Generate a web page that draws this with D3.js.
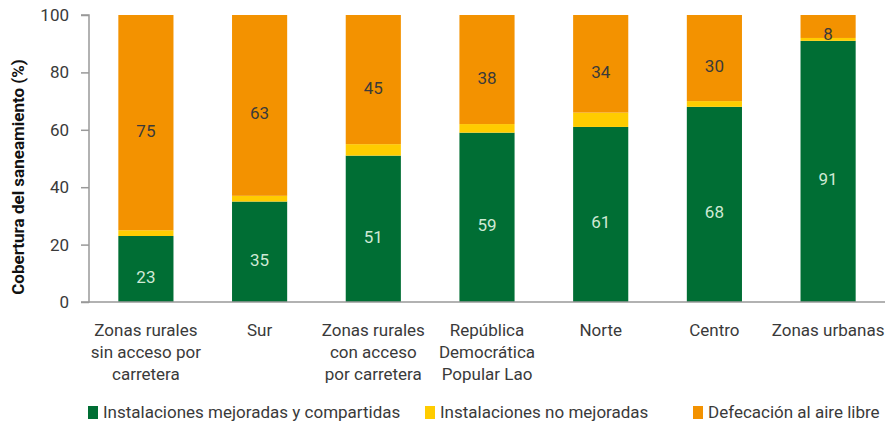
<!DOCTYPE html>
<html><head><meta charset="utf-8">
<script src="https://cdn.jsdelivr.net/npm/d3@7"></script>
<style>
body{margin:0;background:#fff;}
text{font-family:"Liberation Sans Narrow","Roboto",sans-serif;}
</style></head>
<body><svg id="c" width="887" height="424"></svg>
<script>
const categories = [
  ["Zonas rurales","sin acceso por","carretera"],
  ["Sur"],
  ["Zonas rurales","con acceso","por carretera"],
  ["República","Democrática","Popular Lao"],
  ["Norte"],
  ["Centro"],
  ["Zonas urbanas"]
];
const improved   = [23, 35, 51, 59, 61, 68, 91];
const unimproved = [2, 2, 4, 3, 5, 2, 1];
const openDef    = [75, 63, 45, 38, 34, 30, 8];
const yTicks = [0, 20, 40, 60, 80, 100];
const seriesNames = ["Instalaciones mejoradas y compartidas","Instalaciones no mejoradas","Defecación al aire libre"];
const colors = ["#006E34","#FFCC00","#F39200"];

const svg = d3.select("#c");
const x = d3.scaleBand().domain(d3.range(categories.length)).range([89, 885]).paddingInner(0.515).paddingOuter(0.258);
const y = d3.scaleLinear().domain([0, 100]).range([302, 15]);

const data = categories.map((c, i) => ({i, vals: [improved[i], unimproved[i], openDef[i]]}));
const stack = d3.stack().keys([0,1,2]).value((d, k) => d.vals[k]);
const series = stack(data);

const g = svg.append("g");
series.forEach((s, k) => {
  g.selectAll(null).data(s).enter().append("rect")
    .attr("x", d => x(d.data.i))
    .attr("width", x.bandwidth())
    .attr("y", d => y(d[1]))
    .attr("height", d => y(d[0]) - y(d[1]))
    .attr("fill", colors[k]);
});
// value labels
[0, 2].forEach(k => {
  g.selectAll(null).data(series[k]).enter().append("text")
    .attr("x", d => x(d.data.i) + x.bandwidth()/2)
    .attr("y", d => (y(d[0]) + y(d[1]))/2 + 8)
    .attr("text-anchor", "middle")
    .attr("dominant-baseline", "central")
    .attr("font-size", 17)
    .attr("fill", k === 0 ? "#cfe9d5" : "#3a3a3a")
    .text(d => d.data.vals[k]);
});

// y axis
const yAxis = d3.axisLeft(y).tickValues(yTicks).tickSize(8).tickPadding(12);
const ya = svg.append("g").attr("transform", "translate(89,0)").call(yAxis);
ya.select(".domain").attr("stroke", "#999").attr("stroke-width", 1.5).attr("d", "M-8,15H0V302H-8");
ya.selectAll(".tick line").attr("stroke", "#999").attr("stroke-width", 1.5);
ya.selectAll(".tick text").attr("font-size", 17).attr("fill", "#3a3a3a")
  .attr("font-family", '"Liberation Sans Narrow","Roboto",sans-serif');

// x baseline
svg.append("line").attr("x1", 89).attr("x2", 885).attr("y1", y(0)).attr("y2", y(0))
  .attr("stroke", "#999").attr("stroke-width", 1.5);

// category labels
const cl = svg.append("g");
categories.forEach((lines, i) => {
  const t = cl.append("text").attr("x", x(i) + x.bandwidth()/2).attr("y", 336)
    .attr("text-anchor", "middle").attr("font-size", 17).attr("fill", "#3a3a3a");
  lines.forEach((ln, j) => t.append("tspan").attr("x", x(i) + x.bandwidth()/2).attr("dy", j ? 22 : 0).text(ln));
});

// y title
svg.append("text").attr("transform", "translate(24,177) rotate(-90)")
  .attr("text-anchor", "middle").attr("font-size", 17).attr("font-weight", "bold").attr("fill", "#111")
  .text("Cobertura del saneamiento (%)");

// legend
const legX = [88, 425, 693];
seriesNames.forEach((n, k) => {
  const lg = svg.append("g").attr("transform", `translate(${legX[k]},0)`);
  lg.append("rect").attr("x", 0).attr("y", 406).attr("width", 10).attr("height", 13).attr("fill", colors[k]);
  lg.append("text").attr("x", 15).attr("y", 418).attr("font-size", 17).attr("fill", "#3a3a3a").text(n);
});
</script></body></html>
